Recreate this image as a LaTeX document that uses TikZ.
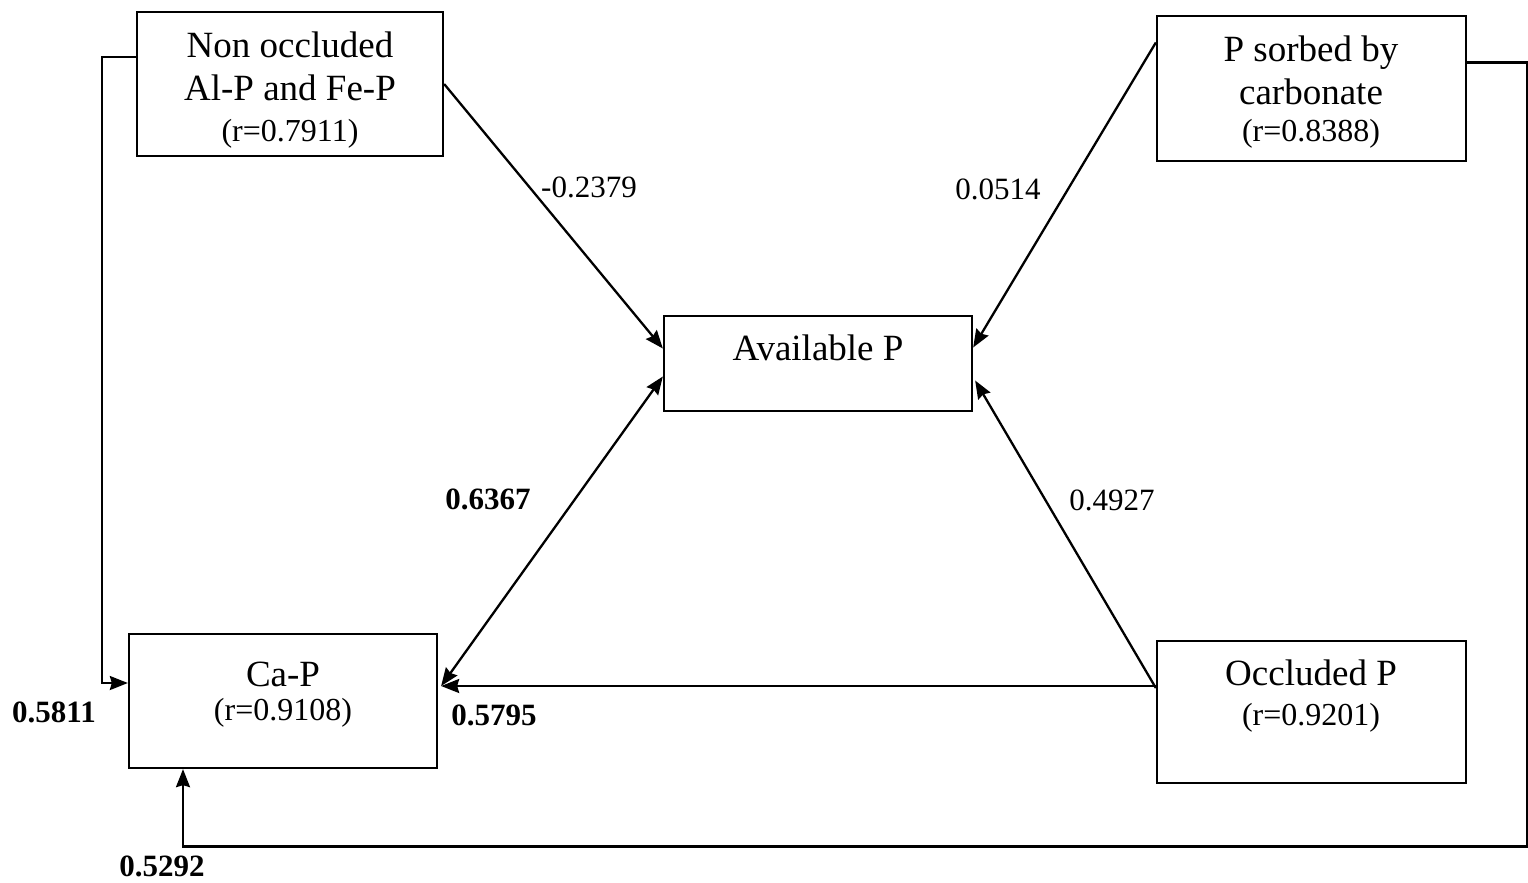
\documentclass[tikz,border=0pt]{standalone}
\usepackage{fontspec}
\setmainfont{Liberation Serif}
\usetikzlibrary{arrows.meta,calc}
\begin{document}
\begin{tikzpicture}[x=1pt,y=-1pt,
  box/.style={draw,line width=2.3pt,inner sep=0pt},
  maintxt/.style={anchor=base,inner sep=0pt,font=\fontsize{37}{44}\selectfont},
  rtxt/.style={anchor=base,inner sep=0pt,font=\fontsize{32}{38}\selectfont},
  coef/.style={inner sep=0pt,font=\fontsize{31}{37}\selectfont},
  bcoef/.style={inner sep=0pt,font=\fontsize{31}{37}\selectfont\bfseries},
  conn/.style={line width=2.3pt},
  arr/.style={conn,-{Stealth[length=18pt,width=14pt,inset=2pt]}},
  darr/.style={conn,{Stealth[length=18pt,width=14pt,inset=2pt]}-{Stealth[length=18pt,width=14pt,inset=2pt]}}]
\useasboundingbox (0,0) rectangle (1528,883);
% boxes
\node[box,minimum width=306pt,minimum height=144pt] (A) at (290,84) {};
\node[box,minimum width=309pt,minimum height=145pt] (B) at (1311.5,88.5) {};
\node[box,minimum width=308pt,minimum height=95pt] (C) at (818,363.5) {};
\node[box,minimum width=308pt,minimum height=134pt] (D) at (283,701) {};
\node[box,minimum width=309pt,minimum height=142pt] (E) at (1311.5,712) {};
% texts
\node[maintxt] (A1) at (290,57) {Non occluded};
\node[maintxt] (A2) at (290,100) {Al-P and Fe-P};
\node[rtxt] (A3) at (290,141) {(r=0.7911)};
\node[maintxt] (B1) at (1311,62) {P sorbed by};
\node[maintxt] (B2) at (1311,104) {carbonate};
\node[rtxt] (B3) at (1311,141) {(r=0.8388)};
\node[maintxt] (C1) at (818,360) {Available P};
\node[maintxt] (D1) at (283,686) {Ca-P};
\node[rtxt] (D2) at (283,720) {(r=0.9108)};
\node[maintxt] (E1) at (1311,685) {Occluded P};
\node[rtxt] (E2) at (1311,725) {(r=0.9201)};
% connectors
\draw[arr] (A.east) -- ($(C.west)+(0,-15)$);
\draw[arr] ($(B.west)+(0,-46)$) -- ($(C.east)+(0,-16)$);
\draw[darr] ($(C.west)+(0,13)$) -- ($(D.east)+(3,-15)$);
\draw[arr] ($(E.west)+(0,-24)$) -- ($(C.east)+(2,17)$);
\draw[arr] ($(E.west)+(0,-26)$) -- ($(D.east)+(3,-15)$);
\draw[arr] ($(A.west)+(0,-27)$) -- ++(-34,0) |- ($(D.west)+(0,-18)$);
\draw[arr] ($(B.east)+(0,-26)$) -- ++(60,0) -- ++(0,784) -| ($(D.south)+(-100,0)$);
% coefficients
\node[coef] (l1) at (589,187) {-0.2379};
\node[coef] (l2) at (998,189) {0.0514};
\node[bcoef] (l3) at (488,499) {0.6367};
\node[coef] (l4) at (1112,500) {0.4927};
\node[bcoef] (l5) at (54,712) {0.5811};
\node[bcoef] (l6) at (494,715) {0.5795};
\node[bcoef] (l7) at (162,866) {0.5292};
\end{tikzpicture}
\end{document}
